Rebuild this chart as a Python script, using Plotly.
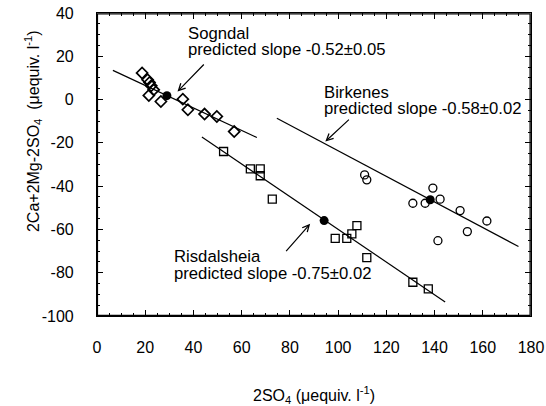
import plotly.graph_objects as go

# ---- data ----
sogndal_x = [18.7, 21.0, 21.8, 22.5, 23.5, 21.5, 26.5, 35.6, 37.7, 44.6, 49.7, 56.9]
sogndal_y = [12.3, 9.2, 7.9, 6.4, 4.5, 1.9, -0.9, 0.2, -4.7, -6.7, -7.8, -14.8]
sogndal_mean_x = [29.0]
sogndal_mean_y = [1.8]
sogndal_line_x = [6.6, 66.3]
sogndal_line_y = [13.5, -17.5]

risdal_x = [52.5, 63.6, 67.7, 67.7, 72.7, 98.8, 103.6, 105.7, 107.8, 111.9, 131.0, 137.4]
risdal_y = [-24.0, -32.0, -32.0, -35.2, -46.0, -64.1, -64.1, -62.1, -58.2, -73.0, -84.4, -87.5]
risdal_mean_x = [94.2]
risdal_mean_y = [-55.9]
risdal_line_x = [43.5, 144.4]
risdal_line_y = [-17.3, -93.5]

birk_x = [111.0, 111.9, 139.3, 131.0, 136.1, 142.3, 150.6, 161.7, 153.6, 141.4]
birk_y = [-34.8, -37.1, -40.9, -47.9, -47.9, -46.0, -51.3, -56.1, -61.0, -65.2]
birk_mean_x = [138.2]
birk_mean_y = [-46.3]
birk_line_x = [74.6, 174.8]
birk_line_y = [-8.6, -67.9]

x_range = [0, 180]
y_range = [-100, 40]
x_ticks = [0, 20, 40, 60, 80, 100, 120, 140, 160, 180]
y_ticks = [-100, -80, -60, -40, -20, 0, 20, 40]

FONT = "Liberation Sans, Arial, Helvetica, sans-serif"
BLACK = "black"
FS = 16.7

fig = go.Figure()

for lx, ly in [(sogndal_line_x, sogndal_line_y), (risdal_line_x, risdal_line_y), (birk_line_x, birk_line_y)]:
    fig.add_trace(go.Scatter(x=lx, y=ly, mode="lines", line=dict(color=BLACK, width=1.2),
                             showlegend=False, hoverinfo="skip"))

fig.add_trace(go.Scatter(x=sogndal_x, y=sogndal_y, mode="markers", showlegend=False,
                         marker=dict(symbol="diamond-open", size=8.5, color=BLACK, line=dict(width=1.7, color=BLACK))))
fig.add_trace(go.Scatter(x=risdal_x, y=risdal_y, mode="markers", showlegend=False,
                         marker=dict(symbol="square-open", size=8, color=BLACK, line=dict(width=1.3, color=BLACK))))
fig.add_trace(go.Scatter(x=birk_x, y=birk_y, mode="markers", showlegend=False,
                         marker=dict(symbol="circle-open", size=8, color=BLACK, line=dict(width=1.3, color=BLACK))))
fig.add_trace(go.Scatter(x=sogndal_mean_x + risdal_mean_x + birk_mean_x,
                         y=sogndal_mean_y + risdal_mean_y + birk_mean_y,
                         mode="markers", showlegend=False,
                         marker=dict(symbol="circle", size=9, color=BLACK)))

annots = []
def txt(x, y, s):
    annots.append(dict(x=x, y=y, xref="x", yref="y", text=s, showarrow=False,
                       xanchor="left", yanchor="middle", font=dict(family=FONT, size=FS, color=BLACK)))
def arrow(hx, hy, tx, ty):
    annots.append(dict(x=hx, y=hy, ax=tx, ay=ty, xref="x", yref="y", axref="x", ayref="y",
                       text="", showarrow=True, arrowhead=5, arrowsize=1.1, arrowwidth=1.2,
                       arrowcolor=BLACK, standoff=0, startstandoff=0))

txt(37.0, 30.3, "Sogndal")
txt(37.0, 23.3, "predicted slope -0.52±0.05")
arrow(33.4, 3.7, 44.9, 16.9)

txt(93.3, 3.1, "Birkenes")
txt(93.3, -3.9, "predicted slope -0.58±0.02")
arrow(94.7, -19.4, 105.1, -8.6)

txt(31.3, -72.6, "Risdalsheia")
txt(31.3, -80.4, "predicted slope -0.75±0.02")
arrow(88.4, -57.4, 77.9, -70.7)

annots.append(dict(x=0.5, y=-0.26, xref="paper", yref="paper", showarrow=False,
                   text="2SO<sub>4</sub> (μequiv. l<sup>-1</sup>)", xanchor="center", yanchor="middle",
                   font=dict(family=FONT, size=16, color=BLACK)))
annots.append(dict(x=-0.147, y=0.611, xref="paper", yref="paper", showarrow=False, textangle=-90,
                   text="2Ca+2Mg-2SO<sub>4</sub>  (μequiv. l<sup>-1</sup>)", xanchor="center", yanchor="middle",
                   font=dict(family=FONT, size=16, color=BLACK)))

axis_common = dict(showgrid=False, zeroline=False, showline=True, linecolor=BLACK, linewidth=1.2,
                   mirror="allticks", ticks="inside", ticklen=6, tickwidth=1, tickcolor=BLACK,
                   automargin=False, ticklabeloverflow="allow",
                   tickfont=dict(family=FONT, size=16, color=BLACK),
                   minor=dict(ticks="inside", ticklen=3, tickwidth=1, tickcolor=BLACK, dtick=5, showgrid=False))

fig.update_xaxes(range=x_range, tickvals=x_ticks, ticktext=[str(v) for v in x_ticks],
                 ticklabelstandoff=17, **axis_common)
fig.update_yaxes(range=y_range, tickvals=y_ticks, ticktext=[str(v) for v in y_ticks],
                 ticklabelstandoff=19, **axis_common)

# explicit frame, drawn just inside the plot edges so no clipping can hide it
fig.add_shape(type="rect", xref="paper", yref="paper", x0=0.001, y0=0.002, x1=0.998, y1=0.997,
              line=dict(color=BLACK, width=1.3), fillcolor="rgba(0,0,0,0)", layer="above")

fig.update_layout(width=546, height=406, margin=dict(l=97, r=15, t=13, b=90),
                  paper_bgcolor="white", plot_bgcolor="white", annotations=annots,
                  font=dict(family=FONT, size=16, color=BLACK))

# remove the default page margin so the 546x406 figure fills the window exactly
fig.write_html("out.html", config={"displayModeBar": False},
               post_script="document.body.style.margin='0';document.body.style.overflow='hidden';")
